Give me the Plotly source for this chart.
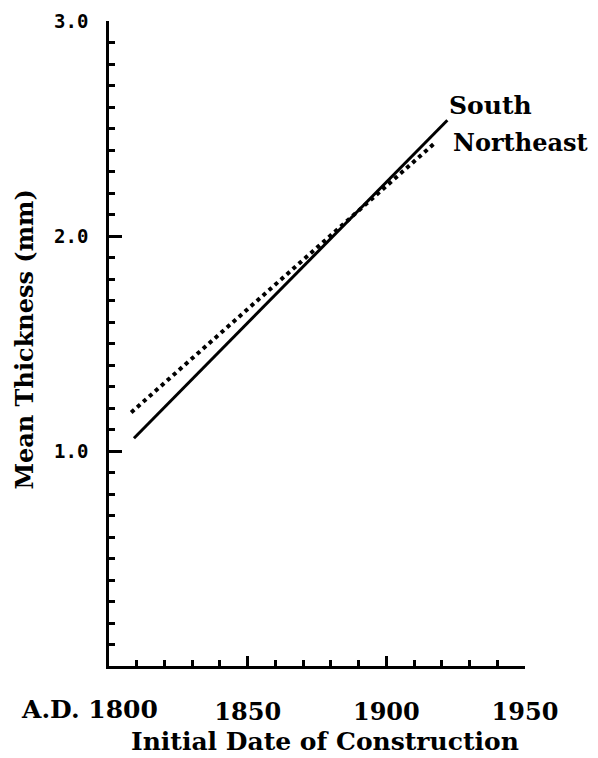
import plotly.graph_objects as go

# Data
south_years = [1809, 1922]
south_thickness = [1.06, 2.54]
northeast_years = [1808, 1918]
northeast_thickness = [1.18, 2.44]

x_tickvals = [1800, 1850, 1900, 1950]
x_ticktext = ["", "1850", "1900", "1950"]
first_x_label = "A.D. 1800"
y_tickvals = [1.0, 2.0, 3.0]
y_ticktext = ["1.0", "2.0", "3.0"]

serif = "DejaVu Serif"
mono = "DejaVu Sans Mono"

fig = go.Figure()
fig.add_trace(go.Scatter(x=south_years, y=south_thickness, mode="lines",
                         line=dict(color="black", width=3), name="South"))
fig.add_trace(go.Scatter(x=northeast_years, y=northeast_thickness, mode="lines",
                         line=dict(color="black", width=4, dash="dot"), name="Northeast"))

fig.update_xaxes(range=[1800, 1950], showgrid=False, zeroline=False, automargin=False,
                 showline=True, linecolor="black", linewidth=2.5,
                 tickvals=x_tickvals, ticktext=x_ticktext,
                 ticks="inside", ticklen=10, tickwidth=2.5, tickcolor="black",
                 minor=dict(dtick=10, tick0=1800, ticks="inside", ticklen=6,
                            tickwidth=2.5, tickcolor="black"),
                 tickfont=dict(family=serif, size=24, color="black", weight="bold"),
                 ticklabelstandoff=22)
fig.update_yaxes(range=[0, 3.002], showgrid=False, zeroline=False, automargin=False,
                 showline=True, linecolor="black", linewidth=2.5,
                 tickvals=y_tickvals, ticktext=y_ticktext, ticklabeloverflow="allow",
                 ticks="inside", ticklen=13, tickwidth=2.5, tickcolor="black",
                 minor=dict(dtick=0.1, tick0=0, ticks="inside", ticklen=6,
                            tickwidth=2.5, tickcolor="black"),
                 tickfont=dict(family=mono, size=19, color="black", weight="bold"),
                 ticklabelstandoff=14)

fig.add_annotation(x=x_tickvals[0], y=-0.068, xref="x", yref="paper",
                   text=first_x_label, showarrow=False, xshift=-20,
                   font=dict(family=serif, size=25, color="black", weight="bold"),
                   xanchor="center", yanchor="middle")
fig.add_annotation(x=0.519, y=-0.117, xref="paper", yref="paper",
                   text="Initial Date of Construction", showarrow=False,
                   font=dict(family=serif, size=25, color="black", weight="bold"),
                   xanchor="center", yanchor="middle")
fig.add_annotation(x=-0.202, y=0.506, xref="paper", yref="paper",
                   text="Mean Thickness (mm)", showarrow=False, textangle=-90,
                   font=dict(family=serif, size=24, color="black", weight="bold"),
                   xanchor="center", yanchor="middle")
fig.add_annotation(x=south_years[-1], y=south_thickness[-1], xref="x", yref="y",
                   text="South", showarrow=False, xanchor="left", yanchor="middle",
                   xshift=0, yshift=15,
                   font=dict(family=serif, size=25, color="black", weight="bold"))
fig.add_annotation(x=northeast_years[-1], y=northeast_thickness[-1], xref="x", yref="y",
                   text="Northeast", showarrow=False, xanchor="left", yanchor="middle",
                   xshift=15, yshift=-1,
                   font=dict(family=serif, size=24, color="black", weight="bold"))

fig.update_layout(width=590, height=750, showlegend=False,
                  paper_bgcolor="white", plot_bgcolor="white",
                  margin=dict(l=101, r=73, t=13, b=92))

fig.write_html("out.html")
